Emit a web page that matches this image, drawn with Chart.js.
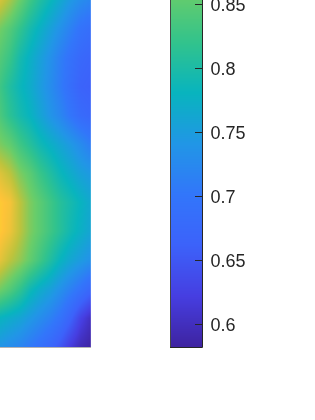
<!DOCTYPE html>
<html>
<head>
<meta charset="utf-8">
<script src="https://cdn.jsdelivr.net/npm/chart.js@4"></script>
<style>
  html, body { margin: 0; padding: 0; background: #fff; overflow: hidden; }
  #mapa { position: absolute; left: 0; top: 0; }
  #barra { position: absolute; left: 170px; top: 0; }
</style>
</head>
<body>
<canvas id="mapa" width="91" height="360"></canvas>
<canvas id="barra" width="145" height="360"></canvas>
<script>
// columnas 0..9 y filas 0..12 del mapa, leidas a ojo del dibujo
const columnas = [0, 1, 2, 3, 4, 5, 6, 7, 8, 9];
const fila00 = [0.915, 0.890, 0.860, 0.830, 0.805, 0.785, 0.765, 0.745, 0.730, 0.720];
const fila01 = [0.865, 0.845, 0.820, 0.795, 0.775, 0.755, 0.735, 0.715, 0.695, 0.685];
const fila02 = [0.845, 0.825, 0.795, 0.775, 0.755, 0.735, 0.712, 0.692, 0.675, 0.668];
const fila03 = [0.830, 0.805, 0.785, 0.770, 0.750, 0.730, 0.708, 0.685, 0.665, 0.660];
const fila04 = [0.840, 0.815, 0.795, 0.780, 0.760, 0.740, 0.722, 0.700, 0.680, 0.672];
const fila05 = [0.870, 0.855, 0.830, 0.810, 0.790, 0.775, 0.760, 0.745, 0.728, 0.710];
const fila06 = [0.920, 0.900, 0.870, 0.850, 0.825, 0.805, 0.785, 0.770, 0.755, 0.745];
const fila07 = [0.945, 0.935, 0.900, 0.870, 0.850, 0.830, 0.810, 0.795, 0.780, 0.765];
const fila08 = [0.945, 0.930, 0.900, 0.870, 0.850, 0.830, 0.810, 0.790, 0.775, 0.760];
const fila09 = [0.925, 0.900, 0.880, 0.855, 0.830, 0.805, 0.780, 0.762, 0.748, 0.735];
const fila10 = [0.865, 0.845, 0.820, 0.790, 0.770, 0.755, 0.735, 0.715, 0.695, 0.672];
const fila11 = [0.780, 0.770, 0.760, 0.745, 0.730, 0.715, 0.695, 0.665, 0.628, 0.602];
const fila12 = [0.740, 0.730, 0.720, 0.705, 0.690, 0.672, 0.648, 0.618, 0.595, 0.585];
const filas = [fila00, fila01, fila02, fila03, fila04, fila05, fila06, fila07, fila08, fila09, fila10, fila11, fila12];

const ticksBarra = [0.6, 0.65, 0.7, 0.75, 0.8, 0.85];
const minBarra = 0.5824;
const maxBarra = 0.8539;
const minColor = 0.5824;
const maxColor = 0.98;

// parula ajustada a la barra, una parada cada 0.1
const parula = [
  [62, 35, 160], [70, 62, 225], [60, 98, 250], [50, 118, 250], [33, 150, 230],
  [8, 180, 190], [50, 195, 140], [105, 205, 105], [190, 195, 60], [254, 195, 56], [249, 251, 21]
];

function colorDe(v) {
  const t = Math.max(0, Math.min(1, (v - minColor) / (maxColor - minColor))) * (parula.length - 1);
  const i = Math.min(parula.length - 2, Math.floor(t));
  const f = t - i;
  const c = parula[i].map((n, k) => Math.round(n + (parula[i + 1][k] - n) * f));
  return `rgb(${c[0]},${c[1]},${c[2]})`;
}

function valorEn(cx, fy) {
  const x0 = Math.max(0, Math.min(columnas.length - 2, Math.floor(cx)));
  const y0 = Math.max(0, Math.min(filas.length - 2, Math.floor(fy)));
  const dx = Math.max(0, Math.min(1, cx - x0));
  const dy = Math.max(0, Math.min(1, fy - y0));
  const arriba = filas[y0][x0] * (1 - dx) + filas[y0][x0 + 1] * dx;
  const abajo = filas[y0 + 1][x0] * (1 - dx) + filas[y0 + 1][x0 + 1] * dx;
  return arriba * (1 - dy) + abajo * dy;
}

const pintarMapa = {
  id: 'pintarMapa',
  beforeDatasetsDraw(chart) {
    const { ctx, chartArea: a, scales: { x, y } } = chart;
    for (let py = a.top; py < a.bottom; py++) {
      for (let px = a.left; px < a.right; px++) {
        ctx.fillStyle = colorDe(valorEn(x.getValueForPixel(px + 0.5), y.getValueForPixel(py + 0.5)));
        ctx.fillRect(px, py, 1, 1);
      }
    }
    // borde suave del eje
    ctx.fillStyle = 'rgba(255,255,255,0.15)';
    ctx.fillRect(a.right - 1, a.top, 1, a.bottom - a.top);
    ctx.fillStyle = 'rgba(38,38,38,0.35)';
    ctx.fillRect(a.left, a.bottom, a.right - a.left, 1);
  }
};

const pintarBarra = {
  id: 'pintarBarra',
  beforeDatasetsDraw(chart) {
    const { ctx, chartArea: a, scales: { y } } = chart;
    for (let py = a.top; py < a.bottom; py++) {
      ctx.fillStyle = colorDe(y.getValueForPixel(py + 0.5));
      ctx.fillRect(a.left, py, a.right - a.left, 1);
    }
    ctx.lineWidth = 1;
    // el borde izquierdo sale mas claro que el derecho
    ctx.strokeStyle = 'rgba(38,38,38,0.85)';
    ctx.beginPath();
    ctx.moveTo(a.left - 0.5, a.top);
    ctx.lineTo(a.left - 0.5, a.bottom);
    ctx.stroke();
    ctx.strokeStyle = '#262626';
    ctx.beginPath();
    ctx.moveTo(a.left - 1, a.bottom + 0.5);
    ctx.lineTo(a.right + 0.5, a.bottom + 0.5);
    ctx.lineTo(a.right + 0.5, a.top);
    ticksBarra.forEach(v => {
      const py = Math.floor(y.getPixelForValue(v)) + 0.5;
      ctx.moveTo(a.right - 7, py);
      ctx.lineTo(a.right, py);
    });
    ctx.stroke();
    // etiquetas un poco por debajo de la marca, como en el original
    ctx.fillStyle = '#262626';
    ctx.font = '18px "Liberation Sans", Arial, sans-serif';
    ctx.textAlign = 'left';
    ctx.textBaseline = 'middle';
    ticksBarra.forEach(v => {
      ctx.fillText(String(v), a.right + 8.5, y.getPixelForValue(v) + 1.5);
    });
  }
};

new Chart(document.getElementById('mapa'), {
  type: 'scatter',
  data: { datasets: [{ data: [], pointRadius: 0 }] },
  options: {
    responsive: false,
    animation: false,
    layout: { padding: { bottom: 13 } },
    plugins: { legend: { display: false }, tooltip: { enabled: false } },
    scales: {
      x: { display: false, min: 0, max: 9 },
      y: { display: false, min: 0, max: 12, reverse: true }
    }
  },
  plugins: [pintarMapa]
});

new Chart(document.getElementById('barra'), {
  type: 'scatter',
  data: { datasets: [{ data: [], pointRadius: 0 }] },
  options: {
    responsive: false,
    animation: false,
    layout: { padding: { left: 1, right: 113, bottom: 13 } },
    plugins: { legend: { display: false }, tooltip: { enabled: false } },
    scales: {
      x: { display: false, min: 0, max: 1 },
      y: { display: false, position: 'right', min: minBarra, max: maxBarra }
    }
  },
  plugins: [pintarBarra]
});
</script>
</body>
</html>
